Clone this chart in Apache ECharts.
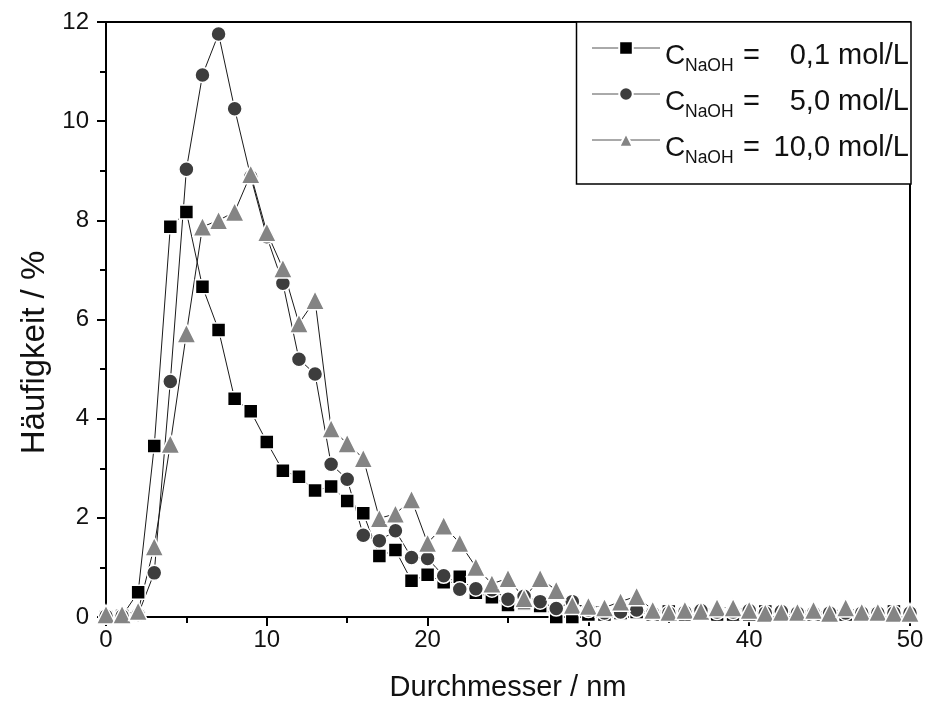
<!DOCTYPE html>
<html>
<head>
<meta charset="utf-8">
<script src="https://cdn.jsdelivr.net/npm/echarts@6/dist/echarts.min.js"></script>
<style>html,body{margin:0;padding:0;background:#fff}#c{width:927px;height:708px}</style>
</head>
<body>
<div id="c"></div>
<script>
var diameters = [0,1,2,3,4,5,6,7,8,9,10,11,12,13,14,15,16,17,18,19,20,21,22,23,24,25,26,27,28,29,30,31,32,33,34,35,36,37,38,39,40,41,42,43,44,45,46,47,48,49,50];
var c01 = [0.0,0.02,0.50,3.45,7.87,8.17,6.66,5.79,4.40,4.15,3.53,2.95,2.83,2.55,2.63,2.34,2.09,1.23,1.35,0.73,0.85,0.70,0.81,0.49,0.40,0.24,0.28,0.22,0.0,0.0,0.05,0.05,0.08,0.10,0.05,0.11,0.05,0.05,0.05,0.05,0.05,0.11,0.05,0.05,0.05,0.05,0.05,0.05,0.05,0.11,0.05];
var c50 = [0.02,0.02,0.05,0.89,4.75,9.03,10.93,11.76,10.25,8.88,7.67,6.73,5.20,4.90,3.08,2.78,1.65,1.54,1.74,1.20,1.18,0.83,0.56,0.57,0.55,0.36,0.42,0.31,0.17,0.31,0.14,0.08,0.10,0.14,0.08,0.08,0.10,0.13,0.10,0.10,0.13,0.08,0.11,0.08,0.08,0.08,0.08,0.08,0.08,0.08,0.08];
var c100 = [0.05,0.05,0.12,1.42,3.49,5.72,7.87,8.00,8.17,8.93,7.76,7.03,5.92,6.39,3.80,3.50,3.20,1.99,2.08,2.37,1.49,1.84,1.49,1.01,0.67,0.78,0.38,0.78,0.54,0.24,0.22,0.19,0.31,0.42,0.14,0.10,0.14,0.12,0.19,0.19,0.14,0.08,0.10,0.10,0.14,0.08,0.19,0.10,0.10,0.08,0.08];
var concLabels = ['0,1 mol/L', '5,0 mol/L', '10,0 mol/L'];
var xTitle = 'Durchmesser / nm';
var yTitle = 'Häufigkeit / %';

function pairs(vals){ return diameters.map(function(d,i){ return [d, vals[i]]; }); }

var chart = echarts.init(document.getElementById('c'), null, {renderer:'canvas'});
var font = '"Liberation Sans", Arial, sans-serif';
var txt = '#111';

function mkSeries(name, vals, symbol, size, color){
  return {
    name: name, type: 'line', data: pairs(vals),
    symbol: symbol, symbolSize: size, showAllSymbol: true,
    lineStyle: {color: '#1a1a1a', width: 1},
    itemStyle: {color: color, borderColor: '#ffffff', borderWidth: 1.5},
    emphasis: {disabled: true}, animation: false
  };
}

var names = concLabels.map(function(c){ return 'C_NaOH = ' + c; });

chart.setOption({
  animation: false,
  backgroundColor: '#fff',
  grid: {left: 106, right: 17, top: 22, bottom: 91, show: true, borderColor: '#000', borderWidth: 2, backgroundColor: 'transparent'},
  xAxis: {
    type: 'value', min: 0, max: 50, interval: 10,
    name: xTitle, nameLocation: 'middle', nameGap: 56,
    nameTextStyle: {fontFamily: font, fontSize: 29, color: txt},
    axisLine: {show: true, lineStyle: {color: '#000', width: 2}},
    axisTick: {show: true, inside: false, length: 9, lineStyle: {color: '#000', width: 2}},
    minorTick: {show: true, splitNumber: 2, length: 6, lineStyle: {color: '#000', width: 2}},
    axisLabel: {fontFamily: font, fontSize: 24, color: txt, margin: 11},
    splitLine: {show: false}
  },
  yAxis: {
    type: 'value', min: 0, max: 12, interval: 2,
    name: yTitle, nameLocation: 'middle', nameGap: 52,
    nameTextStyle: {fontFamily: font, fontSize: 33, color: txt, padding: [0, 66, 0, 0]},
    axisLine: {show: true, lineStyle: {color: '#000', width: 2}},
    axisTick: {show: true, inside: false, length: 9, lineStyle: {color: '#000', width: 2}},
    minorTick: {show: true, splitNumber: 2, length: 6, lineStyle: {color: '#000', width: 2}},
    axisLabel: {fontFamily: font, fontSize: 24, color: txt, margin: 17},
    splitLine: {show: false}
  },
  legend: {
    orient: 'vertical', right: 16, top: 22,
    borderColor: '#000', borderWidth: 1.5, backgroundColor: '#fff',
    padding: [14, 2, 17, 15], itemGap: 7, itemWidth: 68, itemHeight: 17,
    selectedMode: false,
    data: names,
    lineStyle: {color: '#555', width: 1},
    formatter: function(n){
      var i = names.indexOf(n);
      return '{c|C}{s|NaOH}{e|=}{v|' + concLabels[i] + '}';
    },
    textStyle: {
      fontFamily: font, color: txt,
      rich: {
        c: {fontFamily: font, fontSize: 28, color: txt, height: 28, padding: [6, 0, 0, 0], lineHeight: 44, verticalAlign: 'bottom', width: 20},
        s: {fontFamily: font, fontSize: 17.5, color: txt, height: 8, padding: [4, 0, 0, 0], lineHeight: 44, verticalAlign: 'bottom', width: 58},
        e: {fontFamily: font, fontSize: 29, color: txt, height: 28, padding: [6, 0, 0, 0], lineHeight: 44, verticalAlign: 'bottom', width: 20},
        v: {fontFamily: font, fontSize: 29, color: txt, height: 28, padding: [6, 0, 0, 0], lineHeight: 44, verticalAlign: 'bottom', width: 146, align: 'right'}
      }
    }
  },
  series: [
    mkSeries(names[0], c01, 'rect', 14, '#000000'),
    mkSeries(names[1], c50, 'circle', 15, '#3d3d3d'),
    mkSeries(names[2], c100, 'triangle', 19, '#848484')
  ]
});
</script>
</body>
</html>
